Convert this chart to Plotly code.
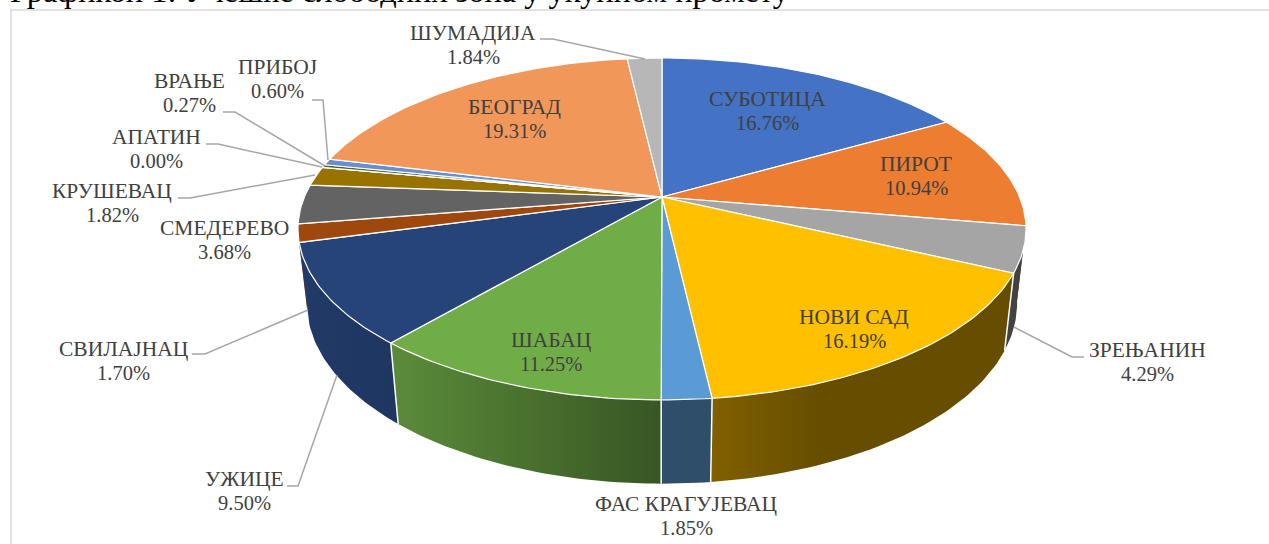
import numpy as np
import plotly.graph_objects as go

TITLE = "Графикон 1: Учешће слободних зона у укупном промету"
CATEGORIES = ["СУБОТИЦА", "ПИРОТ", "ЗРЕЊАНИН", "НОВИ САД", "ФАС КРАГУЈЕВАЦ", "ШАБАЦ", "УЖИЦЕ", "СВИЛАЈНАЦ",
              "СМЕДЕРЕВО", "КРУШЕВАЦ", "АПАТИН", "ВРАЊЕ", "ПРИБОЈ", "БЕОГРАД", "ШУМАДИЈА"]
VALUES = [16.76, 10.94, 4.29, 16.19, 1.85, 11.25, 9.50, 1.70, 3.68, 1.82, 0.00, 0.27, 0.60, 19.31, 1.84]
COLORS = ["#4472C4", "#ED7D31", "#A5A5A5", "#FFC000", "#5B9BD5", "#70AD47", "#264478", "#9E480E",
          "#636363", "#997300", "#255E91", "#43682B", "#698ED0", "#F1975A", "#B7B7B7"]

# label block centres (pixels of the frame)
LABEL_X = [767, 916, 1147, 854, 686, 551, 244, 123, 224, 112, 156, 189, 277, 514, 473]
LABEL_Y = [111, 176, 362, 329, 516, 352, 491, 361, 240, 203, 149, 93, 79, 119, 45]

# leader lines: label end, elbow, slice end
LEADERS = [
    [(540, 39), (553, 39), (645, 59)],
    [(312, 100), (323, 100), (328, 160)],
    [(223, 112), (235, 112), (325, 166)],
    [(206, 144), (218, 144), (322, 167)],
    [(178, 198), (190, 198), (315, 175)],
    [(192, 354), (205, 354), (308, 310)],
    [(287, 486), (298, 486), (337, 375)],
    [(1084, 357), (1072, 357), (1014, 327)],
]

# perspective projection of the pie
CX, CY, G, F, K, M, H = 662.0, 197.0, 357.6, 165.0, 0.187, 0.0242, 75.0
FONT = "Liberation Serif"
LINE_GAP = 24
SHADE_X = [300, 400, 660, 712, 820, 1030]
SHADE_F = [0.86, 0.80, 0.50, 0.50, 0.40, 0.40]


def project(theta, z=0.0):
    X, Y = np.sin(theta), np.cos(theta)
    w = 1 + K * Y + M * z
    return CX + G * X / w, CY + (-F * Y + H * z) / w


def shade(hex_color, factor):
    c = [int(hex_color[i:i + 2], 16) for i in (1, 3, 5)]
    return "rgb({},{},{})".format(*[int(round(v * factor)) for v in c])


fig = go.Figure()
edges = 2 * np.pi * np.concatenate([[0], np.cumsum(VALUES)]) / sum(VALUES)

# side walls, far ones first, each with a left-to-right gradient
walls = []
for i, color in enumerate(COLORS):
    lo, hi = max(edges[i], np.radians(88)), min(edges[i + 1], np.radians(272))
    if hi > lo:
        walls.append((lo, hi, color))
walls.sort(key=lambda s: -np.cos((s[0] + s[1]) / 2))
for lo, hi, color in walls:
    t = np.linspace(lo, hi, max(2, int(np.degrees(hi - lo)) + 2))
    xt, yt = project(t)
    xb, yb = project(t, z=1.0)
    xs = np.concatenate([xt, xb[::-1], xt[:1]])
    ys = np.concatenate([yt, yb[::-1], yt[:1]])
    x0, x1 = float(xs.min()), float(xs.max())
    if x1 - x0 < 1:
        x1 = x0 + 1
    stops = [x0] + [v for v in SHADE_X if x0 < v < x1] + [x1]
    scale = [[(v - x0) / (x1 - x0), shade(color, float(np.interp(v, SHADE_X, SHADE_F)))] for v in stops]
    fig.add_trace(go.Scatter(x=xs, y=ys, mode="lines", fill="toself",
                             fillgradient=dict(type="horizontal", colorscale=scale, start=x0, stop=x1),
                             line=dict(width=0), hoverinfo="skip", showlegend=False))

# white seams on the front wall
for e in edges:
    if np.radians(115) <= e <= np.radians(250):
        xt, yt = project(e)
        xb, yb = project(e, z=1.0)
        fig.add_trace(go.Scatter(x=[xt, xb], y=[yt, yb], mode="lines", line=dict(color="white", width=1.5),
                                 hoverinfo="skip", showlegend=False))

# top faces
for i, color in enumerate(COLORS):
    a, b = edges[i], edges[i + 1]
    t = np.linspace(a, b, max(2, int(np.degrees(b - a)) + 2))
    x, y = project(t)
    xs = np.concatenate([[CX], x, [CX]])
    ys = np.concatenate([[CY], y, [CY]])
    fig.add_trace(go.Scatter(x=xs, y=ys, mode="lines", fill="toself", fillcolor=color,
                             line=dict(color="white", width=1.2), name=CATEGORIES[i],
                             text=[f"{CATEGORIES[i]} {VALUES[i]:.2f}%"] * len(xs), hoverinfo="text",
                             showlegend=False))

# leader lines
for pts in LEADERS:
    fig.add_trace(go.Scatter(x=[p[0] for p in pts], y=[p[1] for p in pts], mode="lines",
                             line=dict(color="#A6A6A6", width=1.5), hoverinfo="skip", showlegend=False))

annotations = []
for c, v, lx, ly in zip(CATEGORIES, VALUES, LABEL_X, LABEL_Y):
    for txt, dy, size in ((c, -LINE_GAP / 2, 21.5), (f"{v:.2f}%", LINE_GAP / 2, 20.5)):
        annotations.append(dict(x=lx, y=ly + dy, xref="x", yref="y", showarrow=False, xanchor="center",
                                yanchor="middle", text=txt, font=dict(family=FONT, size=size, color="#404040")))
annotations.append(dict(x=8, y=11, xref="x", yref="y", showarrow=False, xanchor="left", yanchor="bottom",
                        text=TITLE, font=dict(family=FONT, size=32.4, color="black")))

fig.update_layout(
    width=1269, height=544, margin=dict(l=0, r=0, t=0, b=0), autosize=False,
    paper_bgcolor="white", plot_bgcolor="white",
    xaxis=dict(range=[0, 1269], visible=False, fixedrange=True),
    yaxis=dict(range=[544, 0], visible=False, fixedrange=True),
    annotations=annotations,
    shapes=[dict(type="rect", x0=11, y0=10, x1=1300, y1=600, xref="x", yref="y",
                 line=dict(color="#D9D9D9", width=1.5), layer="below")],
)
fig.write_html("out.html", config={"displayModeBar": False},
               post_script="document.body.style.margin='0';document.body.style.overflow='hidden';")
